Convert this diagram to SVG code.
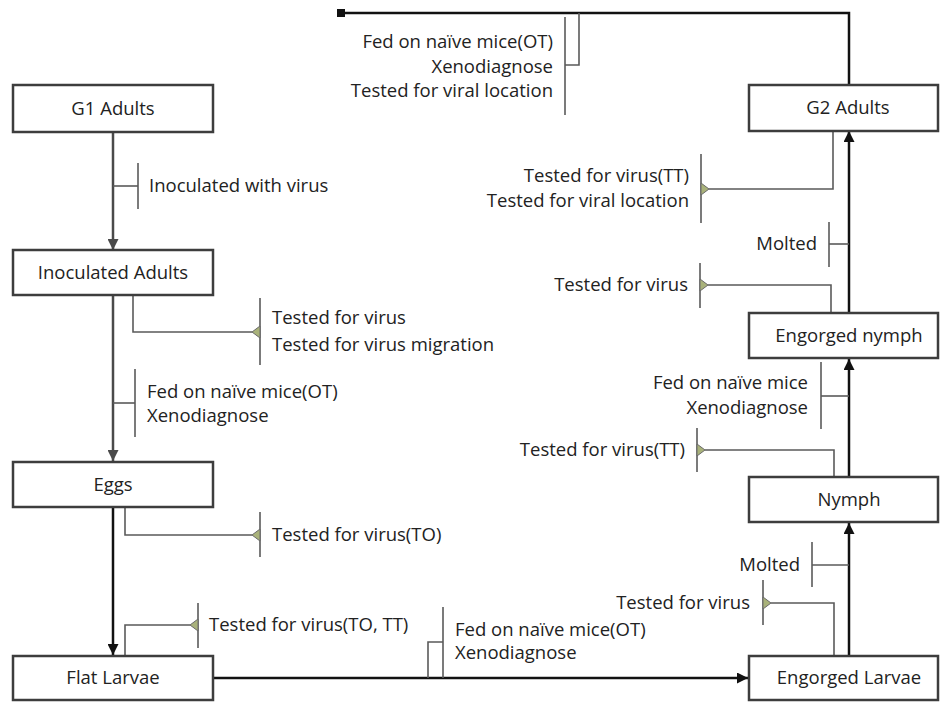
<svg xmlns="http://www.w3.org/2000/svg" width="940" height="702" viewBox="0 0 940 702">
<defs>
<style>
.box{fill:#fff;stroke:#3d3d3d;stroke-width:2.5}
.lbl{font-family:"Open Sans","Liberation Sans",sans-serif;font-size:18.5px;fill:#222}
.c{text-anchor:middle}
.e{text-anchor:end}
.main{fill:none;stroke:#4a4a4a;stroke-width:2.5}
.blk{fill:none;stroke:#111;stroke-width:2.5}
.br{fill:none;stroke:#5a5a5a;stroke-width:1.6}
.bar{fill:none;stroke:#5a5a5a;stroke-width:1.6}
.tri{fill:#a9b27a;stroke:#6a6a6a;stroke-width:1}
</style>
<marker id="ag" viewBox="0 0 10 10" refX="10" refY="5" markerWidth="4.4" markerHeight="4.4" orient="auto" markerUnits="strokeWidth"><path d="M0,0 L10,5 L0,10 z" fill="#4a4a4a"/></marker>
<marker id="ab" viewBox="0 0 10 10" refX="10" refY="5" markerWidth="4.4" markerHeight="4.4" orient="auto" markerUnits="strokeWidth"><path d="M0,0 L10,5 L0,10 z" fill="#111"/></marker>
</defs>

<g id="connectors">
<line class="main" x1="113" y1="132" x2="113" y2="250" marker-end="url(#ag)"/>
<line class="main" x1="113" y1="295" x2="113" y2="461" marker-end="url(#ag)"/>
<line class="blk" x1="113" y1="507" x2="113" y2="655" marker-end="url(#ab)"/>
<line class="blk" x1="213" y1="678" x2="748" y2="678" marker-end="url(#ab)"/>
<line class="blk" x1="849" y1="656" x2="849" y2="523" marker-end="url(#ab)"/>
<line class="blk" x1="849" y1="477" x2="849" y2="359" marker-end="url(#ab)"/>
<line class="blk" x1="849" y1="313" x2="849" y2="131" marker-end="url(#ab)"/>
<polyline class="blk" points="849,85 849,13 341,13"/>
<rect x="337" y="9" width="8" height="8" fill="#111"/>

<polyline class="bar" points="113,186 138,186"/><line class="bar" x1="138" y1="163" x2="138" y2="209"/>
<polyline class="bar" points="113,403 135,403"/><line class="bar" x1="135" y1="369" x2="135" y2="437"/>
<polyline class="bar" points="428,678 428,642 443,642"/><line class="bar" x1="443" y1="607" x2="443" y2="678"/>
<polyline class="bar" points="849,565 812,565"/><line class="bar" x1="812" y1="542" x2="812" y2="587"/>
<polyline class="bar" points="849,396 821,396"/><line class="bar" x1="821" y1="362" x2="821" y2="429"/>
<polyline class="bar" points="849,244 829,244"/><line class="bar" x1="829" y1="222" x2="829" y2="267"/>
<polyline class="bar" points="579,13 579,65 565,65"/><line class="bar" x1="565" y1="17" x2="565" y2="115"/>

<polyline class="br" points="133,295 133,332 252,332"/><line class="bar" x1="260" y1="298" x2="260" y2="365"/><polygon class="tri" points="260,326 260,338 252,332"/>
<polyline class="br" points="125,507 125,535 252,535"/><line class="bar" x1="260" y1="512" x2="260" y2="557"/><polygon class="tri" points="260,529 260,541 252,535"/>
<polyline class="br" points="125,656 125,625 190,625"/><line class="bar" x1="198" y1="603" x2="198" y2="648"/><polygon class="tri" points="198,619 198,631 190,625"/>
<polyline class="br" points="834,656 834,603 771,603"/><line class="bar" x1="763" y1="580" x2="763" y2="625"/><polygon class="tri" points="763,597 763,609 771,603"/>
<polyline class="br" points="834,477 834,450 705,450"/><line class="bar" x1="697" y1="428" x2="697" y2="472"/><polygon class="tri" points="697,444 697,456 705,450"/>
<polyline class="br" points="831,313 831,285 708,285"/><line class="bar" x1="700" y1="263" x2="700" y2="308"/><polygon class="tri" points="700,279 700,291 708,285"/>
<polyline class="br" points="833,130 833,189 709,189"/><line class="bar" x1="701" y1="154" x2="701" y2="223"/><polygon class="tri" points="701,183 701,195 709,189"/>
</g>

<g id="g1-adults"><rect class="box" x="13" y="85" width="200" height="47"/><text class="lbl c" x="113" y="115">G1 Adults</text></g>
<g id="inoculated-adults"><rect class="box" x="13" y="250" width="200" height="45"/><text class="lbl c" x="113" y="279">Inoculated Adults</text></g>
<g id="eggs"><rect class="box" x="13" y="462" width="200" height="45"/><text class="lbl c" x="113" y="491">Eggs</text></g>
<g id="flat-larvae"><rect class="box" x="13" y="656" width="200" height="44"/><text class="lbl c" x="113" y="684">Flat Larvae</text></g>
<g id="g2-adults"><rect class="box" x="749" y="85" width="189" height="46"/><text class="lbl c" x="848" y="114">G2 Adults</text></g>
<g id="engorged-nymph"><rect class="box" x="749" y="313" width="189" height="45"/><text class="lbl c" x="849" y="342">Engorged nymph</text></g>
<g id="nymph"><rect class="box" x="749" y="477" width="189" height="45"/><text class="lbl c" x="849" y="506">Nymph</text></g>
<g id="engorged-larvae"><rect class="box" x="749" y="656" width="189" height="44"/><text class="lbl c" x="849" y="684">Engorged Larvae</text></g>

<g id="labels">
<text class="lbl" x="149" y="192">Inoculated with virus</text>
<text class="lbl" x="272" y="324">Tested for virus</text>
<text class="lbl" x="272" y="351">Tested for virus migration</text>
<text class="lbl" x="147" y="398">Fed on naïve mice(OT)</text>
<text class="lbl" x="147" y="422">Xenodiagnose</text>
<text class="lbl" x="272" y="541">Tested for virus(TO)</text>
<text class="lbl" x="209" y="631">Tested for virus(TO, TT)</text>
<text class="lbl" x="455" y="636">Fed on naïve mice(OT)</text>
<text class="lbl" x="455" y="659">Xenodiagnose</text>
<text class="lbl e" x="553" y="48">Fed on naïve mice(OT)</text>
<text class="lbl e" x="553" y="73">Xenodiagnose</text>
<text class="lbl e" x="553" y="97">Tested for viral location</text>
<text class="lbl e" x="689" y="182">Tested for virus(TT)</text>
<text class="lbl e" x="689" y="207">Tested for viral location</text>
<text class="lbl e" x="817" y="250">Molted</text>
<text class="lbl e" x="688" y="291">Tested for virus</text>
<text class="lbl e" x="808" y="389">Fed on naïve mice</text>
<text class="lbl e" x="808" y="414">Xenodiagnose</text>
<text class="lbl e" x="685" y="456">Tested for virus(TT)</text>
<text class="lbl e" x="800" y="571">Molted</text>
<text class="lbl e" x="750" y="609">Tested for virus</text>
</g>
</svg>
